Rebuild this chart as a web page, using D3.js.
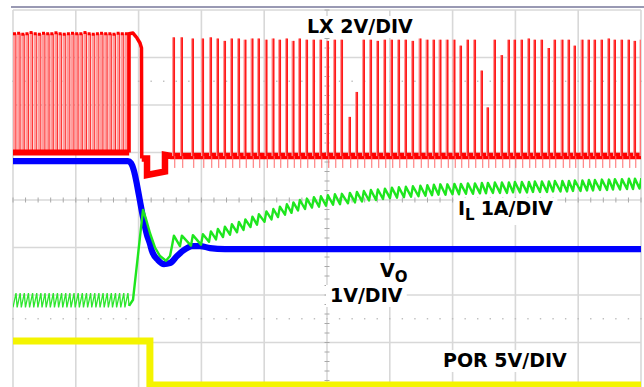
<!DOCTYPE html>
<html>
<head>
<meta charset="utf-8">
<script src="https://cdn.jsdelivr.net/npm/d3@7/dist/d3.min.js"></script>
<style>
  html, body { margin: 0; padding: 0; background: #ffffff; }
  svg { display: block; }
  .lbl { font-family: "DejaVu Sans", Verdana, sans-serif; font-weight: bold; fill: #000; }
</style>
</head>
<body>
<svg id="scope" width="644" height="387"></svg>
<script>
// ---- Graticule: 10 divisions across, 8 divisions down (time in divisions) ----
const TIME_DIVS = [0, 10];
const VERT_DIVS = [-4, 4];

// ---- Channel settings: units per division and ground position (divisions from centre) ----
const LX_PER_DIV = 2,  LX_GROUND = 0.9;     // V
const VO_PER_DIV = 1,  VO_GROUND = -4.18;   // V
const IL_PER_DIV = 1,  IL_GROUND = -2.6;    // A
const POR_PER_DIV = 5, POR_GROUND = -3.895; // V

// ---- LX switch node: dense burst before the fault ----
const lxBurstT = [0.00, 0.066, 0.132, 0.198, 0.264, 0.33, 0.396, 0.462, 0.528, 0.594, 0.66, 0.726,
                  0.792, 0.858, 0.924, 0.99, 1.056, 1.122, 1.188, 1.254, 1.32, 1.386, 1.452, 1.518,
                  1.584, 1.65, 1.716, 1.782];
const lxBurstV = [5.2, 5.22, 5.18, 5.2, 5.25, 5.2, 5.18, 5.22, 5.2, 5.2, 5.24, 5.2, 5.18, 5.2,
                  5.22, 5.2, 5.2, 5.25, 5.2, 5.18, 5.2, 5.22, 5.2, 5.2, 5.18, 5.22, 5.2, 5.2];
const LX_BURST_W = 0.048;   // high time of each burst pulse (div)
const LX_BURST_LOW = 0.2;   // V

// LX during the fault: last long pulse, drop, negative step, recovery
const lxFaultT = [1.848, 1.848, 1.911, 1.975, 2.022, 2.046, 2.05, 2.134, 2.134, 2.42, 2.42, 2.516, 10];
const lxFaultV = [0.2, 5.2, 5.23, 5.02, 4.81, 4.6, -0.05, -0.05, -0.75, -0.6, 0.1, 0.05, 0.05];

// LX narrow pulses after recovery (time in div, peak in V)
const lxSpikeT = [2.532, 2.659, 2.834, 2.994, 3.121, 3.232, 3.344, 3.455, 3.567, 3.670, 3.782, 3.885,
                  4.005, 4.116, 4.220, 4.331, 4.435, 4.538, 4.650, 4.761, 4.873, 4.984, 5.096, 5.207,
                  5.334, 5.446, 5.557, 5.669, 5.780, 5.892, 6.003, 6.115, 6.226, 6.338, 6.457, 6.568,
                  6.672, 6.775, 6.887, 6.998, 7.102, 7.213, 7.325, 7.436, 7.532, 7.643, 7.755, 7.866,
                  7.962, 8.073, 8.185, 8.280, 8.392, 8.503, 8.599, 8.718, 8.822, 8.917, 9.037, 9.140,
                  9.236, 9.347, 9.459, 9.554, 9.666, 9.777, 9.873, 9.976];
const lxSpikeV = [5.05, 5.05, 5.0, 5.0, 5.05, 5.0, 4.9, 5.0, 5.0, 4.95, 5.0, 5.0,
                  4.95, 5.0, 4.95, 5.0, 4.9, 5.0, 4.95, 4.95, 4.95, 4.9, 4.95, 4.95,
                  1.7, 2.75, 4.95, 4.95, 4.9, 4.95, 4.95, 4.95, 4.95, 4.9, 5.0, 4.95,
                  4.95, 4.95, 4.95, 4.95, 4.7, 4.95, 4.95, 3.65, 2.1, 4.95, 4.3, 4.95,
                  4.95, 4.95, 5.0, 4.95, 4.95, 4.6, 4.95, 4.95, 4.95, 4.7, 4.95, 4.95,
                  4.95, 4.95, 5.0, 4.95, 4.95, 4.95, 4.9, 4.95];
const LX_SPIKE_W = 0.034;
const LX_LOW = 0.05;

// ---- VO output voltage ----
const voT = [0, 1.831, 1.879, 1.927, 1.975, 2.022, 2.070, 2.134, 2.182, 2.213, 2.309, 2.404,
             2.500, 2.611, 2.723, 2.850, 2.978, 3.137, 3.376, 10];
const voV = [5.0, 5.0, 4.958, 4.79, 4.495, 4.158, 3.82, 3.442, 3.253, 3.105, 2.916, 2.832,
             2.853, 3.0, 3.126, 3.21, 3.21, 3.168, 3.147, 3.147];

// ---- IL inductor current ----
const IL_START = 0.49, IL_START_RIPPLE = 0.3;   // A, during the burst
const ilStepT = [1.848, 1.911, 2.070, 2.118, 2.182, 2.261, 2.341, 2.436, 2.50];
const ilStepA = [0.37, 0.50, 2.39, 2.2, 1.9, 1.6, 1.42, 1.32, 1.42];
// cycle-average current for each LX pulse after recovery
const ilMean = [1.74, 1.74, 1.75, 1.77, 1.83, 1.88, 1.93, 1.98, 2.03, 2.08, 2.14, 2.19,
                2.25, 2.30, 2.35, 2.40, 2.44, 2.49, 2.52, 2.55, 2.57, 2.59, 2.61, 2.62,
                2.64, 2.66, 2.68, 2.70, 2.71, 2.73, 2.75, 2.76, 2.77, 2.78, 2.79, 2.80,
                2.81, 2.82, 2.82, 2.83, 2.83, 2.84, 2.84, 2.85, 2.85, 2.86, 2.86, 2.86,
                2.87, 2.87, 2.87, 2.88, 2.88, 2.88, 2.89, 2.89, 2.89, 2.90, 2.90, 2.91,
                2.91, 2.92, 2.92, 2.93, 2.93, 2.94, 2.94, 2.95];
const IL_RIPPLE = 0.22;
const IL_RISE = 0.03;

// ---- POR power-on-reset ----
const porT = [0, 2.18, 2.18, 10];
const porV = [4.63, 4.63, 0, 0];

// ---- Channel annotations ----
const labelLX  = { main: "LX 2V/DIV", x: 307, y: 33 };
const labelIL  = { main: "I", sub: "L", rest: "1A/DIV", x: 458, y: 215 };
const labelVO  = { main: "V", sub: "O", x: 380, y: 277 };
const labelVO2 = { main: "1V/DIV", x: 330, y: 302 };
const labelPOR = { main: "POR 5V/DIV", x: 443, y: 367 };

// ================= drawing =================
const svg = d3.select("#scope");
const x = d3.scaleLinear().domain(TIME_DIVS).range([13, 641]);
const y = d3.scaleLinear().domain(VERT_DIVS).range([390, 10]);
const chan = (ground, perDiv) => v => y(ground + v / perDiv);
const yLX = chan(LX_GROUND, LX_PER_DIV);
const yVO = chan(VO_GROUND, VO_PER_DIV);
const yIL = chan(IL_GROUND, IL_PER_DIV);
const yPOR = chan(POR_GROUND, POR_PER_DIV);

svg.append("defs").append("clipPath").attr("id", "plotClip")
  .append("rect").attr("x", x(0)).attr("y", 8).attr("width", x(10) - x(0)).attr("height", 390);

// graticule
const grid = svg.append("g");
grid.selectAll("line.v").data(d3.range(0, 11)).join("line")
  .attr("x1", d => x(d)).attr("x2", d => x(d)).attr("y1", y(4)).attr("y2", y(-4))
  .attr("stroke", "#d8d8d8").attr("stroke-width", 1.6);
grid.selectAll("line.h").data(d3.range(-4, 5)).join("line")
  .attr("y1", d => y(d)).attr("y2", d => y(d)).attr("x1", x(0)).attr("x2", x(10))
  .attr("stroke", "#d8d8d8").attr("stroke-width", 1.6);
// centre axes with minor ticks
const minorX = d3.range(0, 50.5).map(i => i * 0.2);
const minorY = d3.range(0, 40.5).map(i => -4 + i * 0.2);
grid.selectAll("line.tx").data(minorX).join("line")
  .attr("x1", d => x(d)).attr("x2", d => x(d)).attr("y1", y(0) - 2.5).attr("y2", y(0) + 2.5)
  .attr("stroke", "#a8a8a8").attr("stroke-width", 1);
grid.selectAll("line.ty").data(minorY).join("line")
  .attr("y1", d => y(d)).attr("y2", d => y(d)).attr("x1", x(5) - 2.5).attr("x2", x(5) + 2.5)
  .attr("stroke", "#a8a8a8").attr("stroke-width", 1);
// dotted quarter lines
[2.5, -2.5].forEach(lv => {
  grid.selectAll(null).data(minorX).join("rect")
    .attr("x", d => x(d) - 0.7).attr("y", y(lv) - 0.7).attr("width", 1.4).attr("height", 1.4)
    .attr("fill", "#bcbcbc");
});
// top frame
svg.append("line").attr("x1", 11).attr("x2", 644).attr("y1", 7).attr("y2", 7)
  .attr("stroke", "#77779a").attr("stroke-width", 1.5);

const traces = svg.append("g").attr("clip-path", "url(#plotClip)");
const line = (yf, curve) => d3.line().x(d => x(d[0])).y(d => yf(d[1])).curve(curve || d3.curveLinear);

// ---- LX (red) ----
const lx = traces.append("g");
// burst pulses
lx.selectAll("rect.burst").data(lxBurstT).join("rect")
  .attr("x", d => x(d)).attr("width", d => x(d + LX_BURST_W) - x(d))
  .attr("y", (d, i) => yLX(lxBurstV[i])).attr("height", (d, i) => yLX(LX_BURST_LOW) - yLX(lxBurstV[i]))
  .attr("fill", "#ff9c9c");
lx.selectAll("line.bedge").data(lxBurstT).join("line")
  .attr("x1", d => x(d + LX_BURST_W)).attr("x2", d => x(d + LX_BURST_W))
  .attr("y1", (d, i) => yLX(lxBurstV[i])).attr("y2", yLX(LX_BURST_LOW))
  .attr("stroke", "#ff2a2a").attr("stroke-width", 1);
lx.selectAll("line.btop").data(lxBurstT).join("line")
  .attr("x1", d => x(d)).attr("x2", d => x(d + LX_BURST_W))
  .attr("y1", (d, i) => yLX(lxBurstV[i])).attr("y2", (d, i) => yLX(lxBurstV[i]))
  .attr("stroke", "#ff0000").attr("stroke-width", 3);
lx.append("line").attr("x1", x(0)).attr("x2", x(1.85))
  .attr("y1", yLX(LX_BURST_LOW)).attr("y2", yLX(LX_BURST_LOW))
  .attr("stroke", "#ff0000").attr("stroke-width", 6);
// fault section
const faultPts = lxFaultT.map((t, i) => [t, lxFaultV[i]]);
lx.append("path").attr("d", line(yLX)(faultPts.slice(0, 7)))
  .attr("fill", "none").attr("stroke", "#ff0000").attr("stroke-width", 3.5).attr("stroke-linejoin", "round");
lx.append("path").attr("d", line(yLX)(faultPts.slice(6)))
  .attr("fill", "none").attr("stroke", "#ff0000").attr("stroke-width", 6.5);
// narrow pulses after recovery
lx.selectAll("rect.spike").data(lxSpikeT).join("rect")
  .attr("x", d => x(d)).attr("width", d => x(d + LX_SPIKE_W) - x(d))
  .attr("y", (d, i) => yLX(lxSpikeV[i])).attr("height", (d, i) => yLX(LX_LOW) - yLX(lxSpikeV[i]))
  .attr("fill", "#ff9a9a");
lx.selectAll("line.sedge").data(lxSpikeT).join("line")
  .attr("x1", d => x(d + LX_SPIKE_W)).attr("x2", d => x(d + LX_SPIKE_W))
  .attr("y1", (d, i) => yLX(lxSpikeV[i])).attr("y2", yLX(LX_LOW))
  .attr("stroke", "#ff1a1a").attr("stroke-width", 1.8);
lx.selectAll("line.under").data(lxSpikeT).join("line")
  .attr("x1", d => x(d + LX_SPIKE_W + 0.01)).attr("x2", d => x(d + LX_SPIKE_W + 0.01))
  .attr("y1", yLX(LX_LOW)).attr("y2", yLX(-0.45))
  .attr("stroke", "#ff6a6a").attr("stroke-width", 1);

// ---- VO (blue) ----
traces.append("path")
  .attr("d", line(yVO, d3.curveMonotoneX)(voT.map((t, i) => [t, voV[i]])))
  .attr("fill", "none").attr("stroke", "#0000ff").attr("stroke-width", 6.2);

// ---- IL (green) ----
const ilBurst = [];
lxBurstT.forEach(t => {
  ilBurst.push([t, IL_START - IL_START_RIPPLE / 2]);
  ilBurst.push([t + LX_BURST_W, IL_START + IL_START_RIPPLE / 2]);
});
traces.append("path")
  .attr("d", line(yIL)(ilBurst.concat(ilStepT.slice(0, 1).map((t, i) => [t, ilStepA[i]]))))
  .attr("fill", "none").attr("stroke", "#2ee62e").attr("stroke-width", 1.3);
const ilRight = ilStepT.map((t, i) => [t, ilStepA[i]]);
lxSpikeT.forEach((t, i) => {
  ilRight.push([t, ilMean[i] - IL_RIPPLE / 2]);
  ilRight.push([t + IL_RISE, ilMean[i] + IL_RIPPLE / 2]);
});
traces.append("path").attr("d", line(yIL)(ilRight))
  .attr("fill", "none").attr("stroke", "#1ee61e").attr("stroke-width", 2.4).attr("stroke-linejoin", "round");

// ---- POR (yellow) ----
traces.append("path")
  .attr("d", line(yPOR)(porT.map((t, i) => [t, porV[i]])))
  .attr("fill", "none").attr("stroke", "#f4f400").attr("stroke-width", 7);

// ---- annotations ----
const labels = svg.append("g");
function addLabel(spec) {
  const g = labels.append("g");
  const box = g.append("rect").attr("fill", "#ffffff");
  const t = g.append("text").attr("class", "lbl").attr("x", spec.x).attr("y", spec.y)
    .attr("font-size", 19);
  t.append("tspan").text(spec.main);
  if (spec.sub) t.append("tspan").attr("font-size", 15).attr("dy", 5).text(spec.sub);
  if (spec.rest) t.append("tspan").attr("font-size", 19).attr("dy", -5).attr("dx", 6).text(spec.rest);
  const b = t.node().getBBox();
  box.attr("x", b.x - 4).attr("y", b.y + 1).attr("width", b.width + 8).attr("height", b.height);
}
[labelLX, labelIL, labelVO, labelVO2, labelPOR].forEach(addLabel);
</script>
</body>
</html>
